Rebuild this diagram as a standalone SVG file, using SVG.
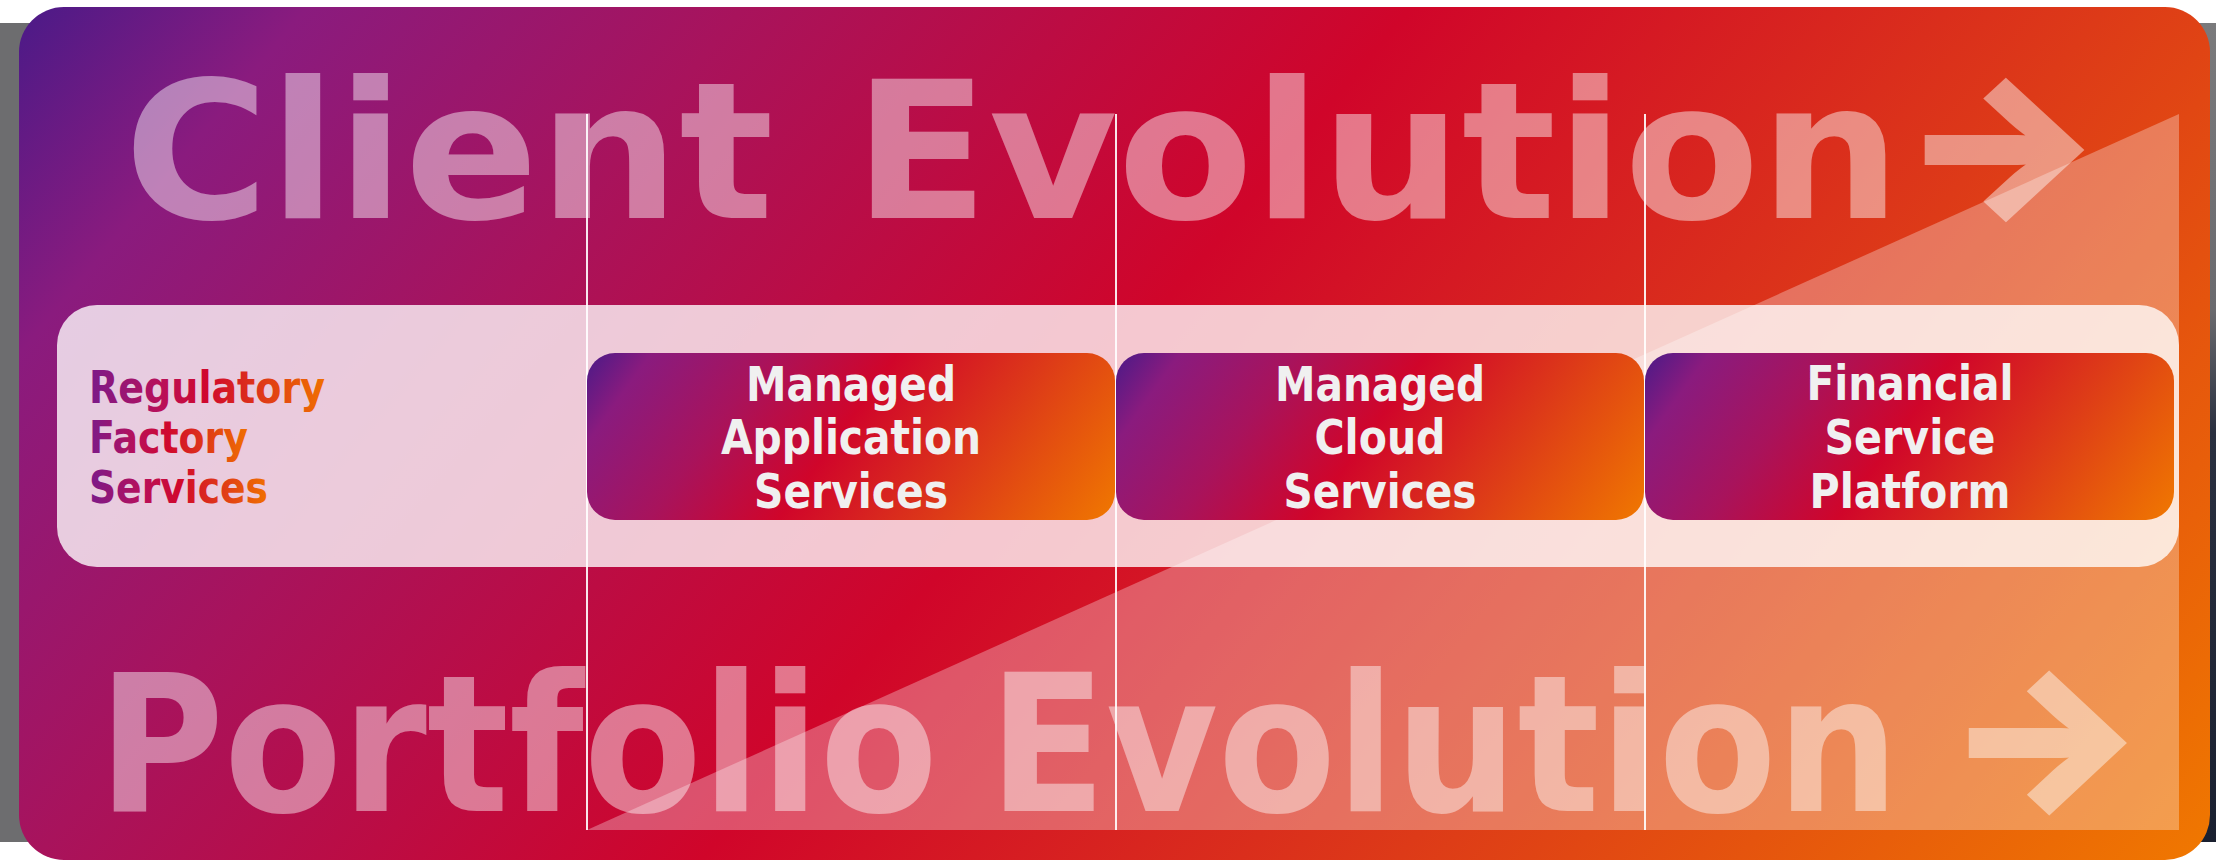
<svg xmlns="http://www.w3.org/2000/svg" width="2216" height="862" viewBox="0 0 2216 862">
  <defs>
    <linearGradient id="bg" gradientUnits="userSpaceOnUse" x1="18" y1="7" x2="1731" y2="1434">
      <stop offset="0" stop-color="#4a1a88"/>
      <stop offset="0.1" stop-color="#8a1b7e"/>
      <stop offset="0.25" stop-color="#a8135c"/>
      <stop offset="0.48" stop-color="#d0052a"/>
      <stop offset="0.72" stop-color="#dd3a18"/>
      <stop offset="1" stop-color="#f07800"/>
    </linearGradient>
    <linearGradient id="boxg" x1="0" y1="0" x2="1.167" y2="0.265">
      <stop offset="0" stop-color="#4a1a88"/>
      <stop offset="0.1" stop-color="#8a1b7e"/>
      <stop offset="0.28" stop-color="#a8135c"/>
      <stop offset="0.48" stop-color="#d0052a"/>
      <stop offset="0.72" stop-color="#dd3a18"/>
      <stop offset="1" stop-color="#f07800"/>
    </linearGradient>
    <linearGradient id="tg" x1="0" y1="0" x2="1" y2="0">
      <stop offset="0" stop-color="#7a1a8a"/>
      <stop offset="0.3" stop-color="#b8105a"/>
      <stop offset="0.5" stop-color="#d0082c"/>
      <stop offset="0.75" stop-color="#e03c16"/>
      <stop offset="1" stop-color="#f07000"/>
    </linearGradient>
    <linearGradient id="shr" x1="0" y1="0" x2="0" y2="1">
      <stop offset="0" stop-color="#7a7a7c"/>
      <stop offset="0.35" stop-color="#6a6a6e"/>
      <stop offset="0.5" stop-color="#2a3040"/>
      <stop offset="1" stop-color="#1a2030"/>
    </linearGradient>
    <style>
      .big { font-family: 'DejaVu Sans', sans-serif; font-weight: bold; font-size: 191px; fill: #ffffff; fill-opacity: 0.45; }
      .arw { font-family: Inter, 'DejaVu Sans', sans-serif; font-weight: bold; font-size: 191px; fill: #ffffff; stroke: #ffffff; stroke-width: 8; stroke-linejoin: miter; opacity: 0.45; }
      .lbl { font-family: 'DejaVu Sans Condensed', 'DejaVu Sans', sans-serif; font-stretch: condensed; font-weight: bold; font-size: 48px; fill: #f0f0f0; text-anchor: middle; }
      .rfs { font-family: 'DejaVu Sans Condensed', 'DejaVu Sans', sans-serif; font-stretch: condensed; font-weight: bold; font-size: 45px; fill: url(#tg); }
      .box { fill: url(#boxg); }
      .vline { stroke: #ffffff; stroke-width: 2; stroke-opacity: 0.9; }
    </style>
  </defs>

  <g id="backdrop">
    <rect x="0" y="23" width="2216" height="819" fill="#6d6d6f"/>
    <rect x="2180" y="23" width="36" height="819" fill="url(#shr)"/>
    <rect x="19" y="7" width="2191" height="853" rx="45" ry="45" fill="url(#bg)"/>
    <polygon points="587,830 2179,114 2179,830" fill="#ffffff" fill-opacity="0.3"/>
  </g>

  <g id="title-client">
    <text class="big" x="124" y="218" word-spacing="10.6" transform="matrix(1.035 0 0 1 -4.34 0)">Client Evolution</text>
    <text class="arw" x="1925" y="218" transform="translate(1925,148.5) scale(1.07,0.985) translate(-1945,-155.5)">→</text>
  </g>

  <g id="title-portfolio">
    <text class="big" x="98" y="811" word-spacing="-10" transform="matrix(0.9 0 0 1 9.8 0)">Portfolio Evolution</text>
    <text class="arw" x="1970" y="811" transform="translate(1969,741) scale(1.06,0.99) translate(-1990,-748.5)">→</text>
  </g>

  <g id="band">
    <rect x="57" y="305" width="2122" height="262" rx="40" ry="40" fill="#ffffff" fill-opacity="0.78"/>
  </g>

  <g id="connectors">
    <line class="vline" x1="587" y1="114" x2="587" y2="830"/>
    <line class="vline" x1="1116" y1="114" x2="1116" y2="830"/>
    <line class="vline" x1="1645" y1="114" x2="1645" y2="830"/>
  </g>

  <g id="regulatory-factory-services">
    <text class="rfs" x="89" y="403" textLength="236" lengthAdjust="spacingAndGlyphs">Regulatory</text>
    <text class="rfs" x="89" y="453" textLength="159" lengthAdjust="spacingAndGlyphs">Factory</text>
    <text class="rfs" x="89" y="503" textLength="179" lengthAdjust="spacingAndGlyphs">Services</text>
  </g>

  <g id="managed-application-services">
    <rect class="box" x="587" y="353" width="528" height="167" rx="28" ry="28"/>
    <text class="lbl" x="851" y="401" textLength="210" lengthAdjust="spacingAndGlyphs">Managed</text>
    <text class="lbl" x="851" y="454" textLength="260" lengthAdjust="spacingAndGlyphs">Application</text>
    <text class="lbl" x="851" y="508" textLength="194" lengthAdjust="spacingAndGlyphs">Services</text>
  </g>

  <g id="managed-cloud-services">
    <rect class="box" x="1116" y="353" width="528" height="167" rx="28" ry="28"/>
    <text class="lbl" x="1380" y="401" textLength="210" lengthAdjust="spacingAndGlyphs">Managed</text>
    <text class="lbl" x="1380" y="454" textLength="131" lengthAdjust="spacingAndGlyphs">Cloud</text>
    <text class="lbl" x="1380" y="508" textLength="193" lengthAdjust="spacingAndGlyphs">Services</text>
  </g>

  <g id="financial-service-platform">
    <rect class="box" x="1645" y="353" width="529" height="167" rx="28" ry="28"/>
    <text class="lbl" x="1910" y="400" textLength="207" lengthAdjust="spacingAndGlyphs">Financial</text>
    <text class="lbl" x="1910" y="454" textLength="171" lengthAdjust="spacingAndGlyphs">Service</text>
    <text class="lbl" x="1910" y="508" textLength="201" lengthAdjust="spacingAndGlyphs">Platform</text>
  </g>
</svg>
